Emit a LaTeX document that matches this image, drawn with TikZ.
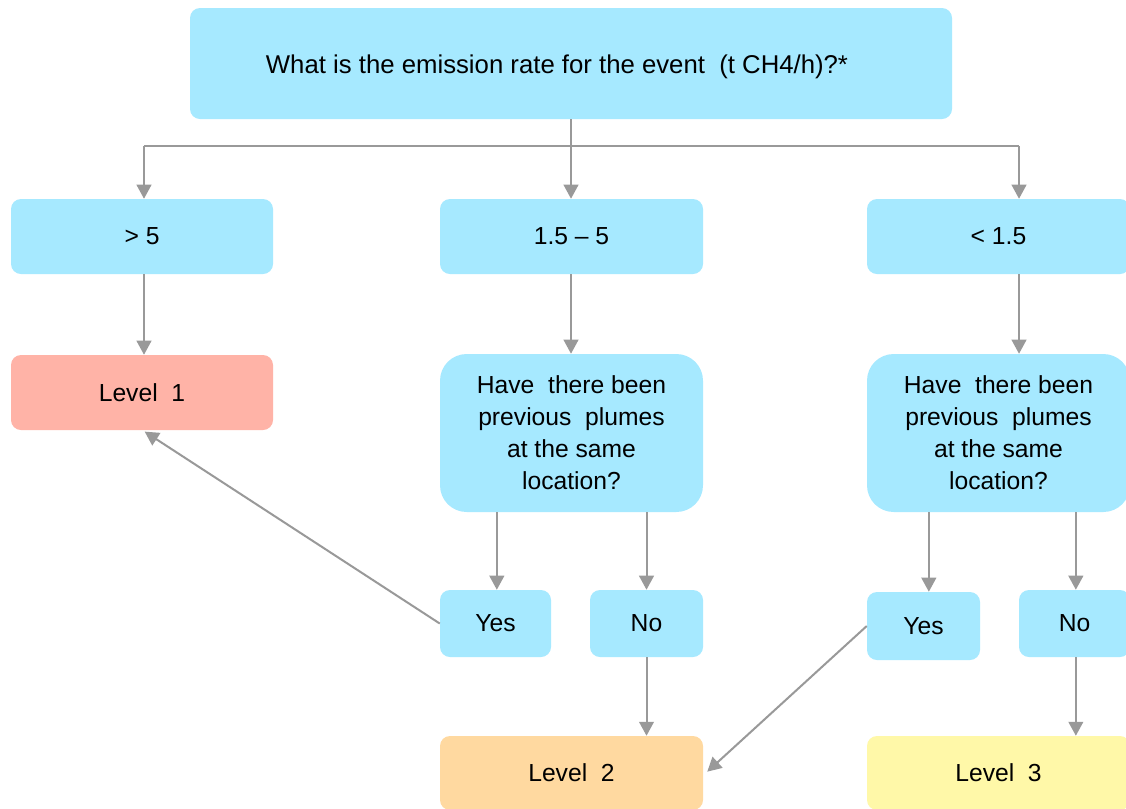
\documentclass[tikz,border=0pt]{standalone}
\usepackage{fontspec}
\setmainfont{Liberation Sans}
\usetikzlibrary{arrows.meta}
\definecolor{boxblue}{HTML}{A6E9FF}
\definecolor{lvlone}{HTML}{FFB3A7}
\definecolor{lvltwo}{HTML}{FFD9A0}
\definecolor{lvlthree}{HTML}{FFF8A8}
\definecolor{conngray}{HTML}{999999}
\tikzset{
  wh/.style 2 args={minimum width=#1*0.75pt, minimum height=#2*0.75pt},
  box/.style={fill=boxblue, draw=none, rounded corners=7.5pt, inner sep=0pt, align=center, font=\fontsize{18.5pt}{24pt}\selectfont},
  qbox/.style={box, rounded corners=20pt},
  conn/.style={draw=conngray, line width=1.5pt},
  arr/.style={conn, -{Triangle[length=10.5pt,width=11pt]}},
  lbl/.style={inner sep=0pt, align=center, font=\fontsize{19.3pt}{24pt}\selectfont},
}
\begin{document}
\begin{tikzpicture}[x=0.75pt,y=-0.75pt]
\clip (0,0) rectangle (1126,808);
\fill[white] (0,0) rectangle (1126,808);
\node[box, wh={762}{111}] (top) at (571,63.5) {};
\node[lbl] (toptext) at (557,67) {What is the emission rate for the event \ (t CH4/h)?*};
\node[box, wh={262}{75}] (g5) at (142,236.5) {> 5};
\node[box, wh={263}{75}] (mid) at (571.5,236.5) {1.5 – 5};
\node[box, wh={263}{75}] (lt) at (998.5,236.5) {< 1.5};
\node[box, fill=lvlone, wh={262}{75}] (L1) at (142,392.5) {Level \ 1};
\node[qbox, wh={263}{158}] (q1) at (571.5,433) {Have \ there been\\previous \ plumes\\at the same\\location?};
\node[qbox, wh={263}{158}] (q2) at (998.5,433) {Have \ there been\\previous \ plumes\\at the same\\location?};
\node[box, wh={111}{67}] (y1) at (495.5,623.5) {Yes};
\node[box, wh={113}{67}] (n1) at (646.5,623.5) {No};
\node[box, wh={113}{68}] (y2) at (923.5,626) {Yes};
\node[box, wh={111}{67}] (n2) at (1074.5,623.5) {No};
\node[box, fill=lvltwo, wh={263}{74}] (L2) at (571.5,773) {Level \ 2};
\node[box, fill=lvlthree, wh={263}{74}] (L3) at (998.5,773) {Level \ 3};
\coordinate (hb) at (571,146);
\coordinate (hl) at (144,146);
\coordinate (hr) at (1019,146);
\draw[conn] (top.south) -- (hb);
\draw[conn] (hl) -- (hr);
\draw[arr] (hl) -- (hl |- g5.north);
\draw[arr] (hb) -- (hb |- mid.north);
\draw[arr] (hr) -- (hr |- lt.north);
\draw[arr] (g5.south -| hl) -- (hl |- L1.north);
\draw[arr] (mid.south -| hb) -- (hb |- q1.north);
\draw[arr] (lt.south -| hr) -- (hr |- q2.north);
\draw[arr] ([xshift=1pt]y1.north |- q1.south) -- ([xshift=1pt]y1.north);
\draw[arr] (n1.north |- q1.south) -- (n1.north);
\draw[arr] ([xshift=4pt]y2.north |- q2.south) -- ([xshift=4pt]y2.north);
\draw[arr] ([xshift=1pt]n2.north |- q2.south) -- ([xshift=1pt]n2.north);
\draw[arr] (n1.south) -- (n1.south |- L2.north);
\draw[arr] ([xshift=1pt]n2.south) -- ([xshift=1pt]n2.south |- L3.north);
\draw[arr] (y1.west) -- ([xshift=2pt,yshift=-1pt]L1.south);
\draw[arr] (y2.west) -- ([xshift=3pt,yshift=1pt]L2.east);
\end{tikzpicture}
\end{document}
